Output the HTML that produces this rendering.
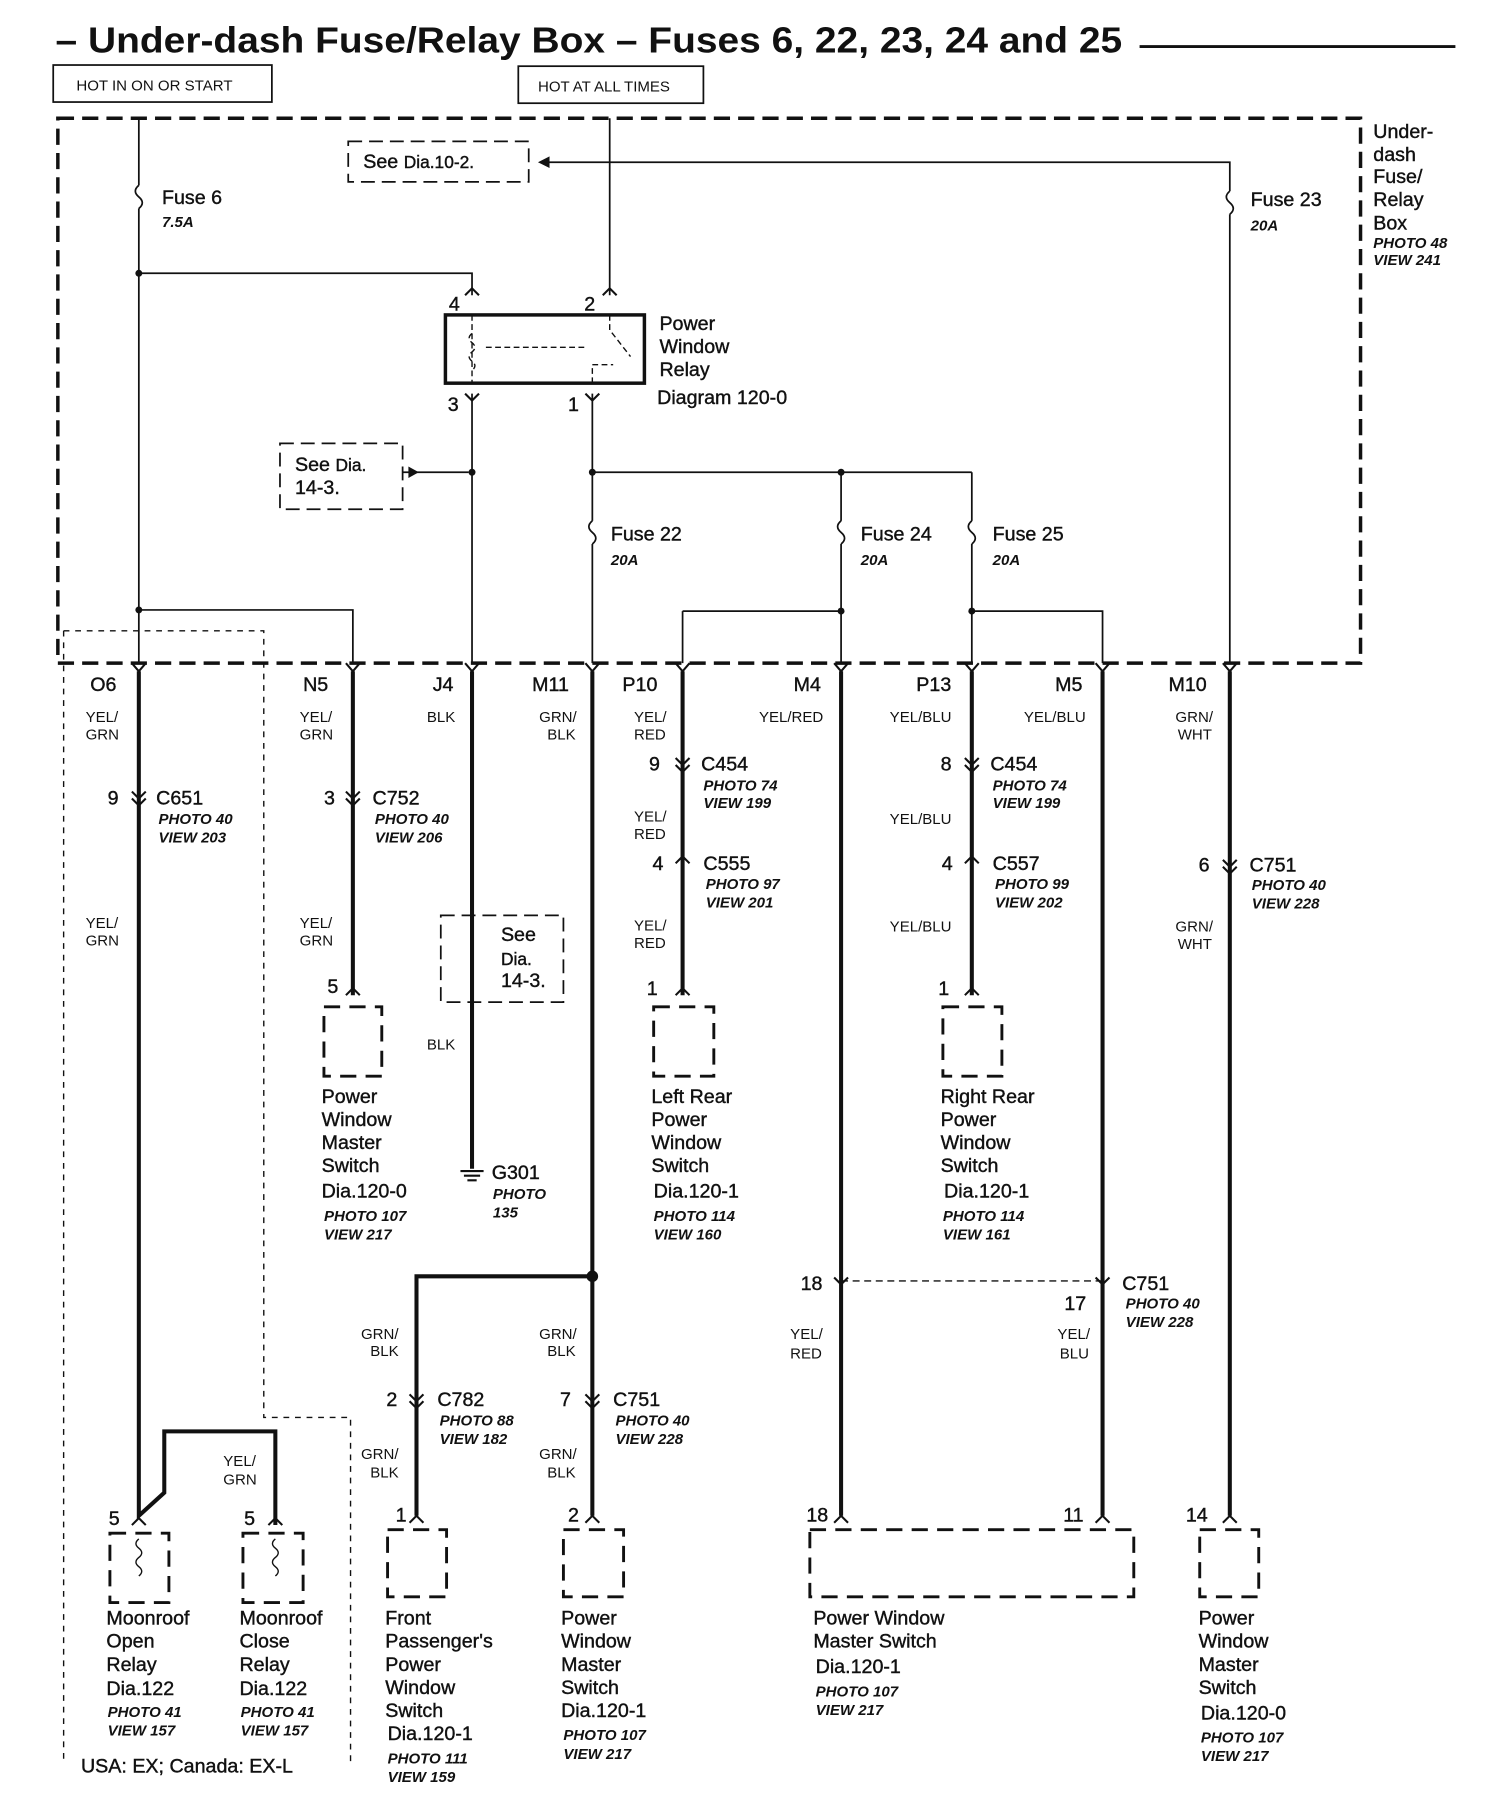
<!DOCTYPE html>
<html><head><meta charset="utf-8"><style>
html,body{margin:0;padding:0;background:#fff}
svg{display:block}
text{font-family:"Liberation Sans",sans-serif;fill:#111}
.l{font-size:17px;stroke:#111;stroke-width:0.35}
.s{font-size:13px;font-style:italic;font-weight:bold}
.w{font-size:13px}
.t{font-size:31px;font-weight:bold}
</style></head><body>
<svg width="1504" height="1818" viewBox="0 0 1300 1571" xmlns="http://www.w3.org/2000/svg">
<rect width="1300" height="1571" fill="#fff"/>
<text x="48" y="45" class="t" textLength="922" lengthAdjust="spacingAndGlyphs">– Under-dash Fuse/Relay Box – Fuses 6, 22, 23, 24 and 25</text>
<line x1="985" y1="40" x2="1258" y2="40" stroke="#111" stroke-width="2.5"/>
<g fill="none" stroke="#111">
<rect x="46" y="56" width="189" height="32" stroke-width="1.5"/>
<rect x="448" y="57" width="160" height="32" stroke-width="1.5"/>
<rect x="50" y="102" width="1126" height="471" stroke-width="3" stroke-dasharray="14,7"/>
<g stroke-width="1.5">
<path d="M120 102V160M120 180V573"/>
<path d="M527 102V255M527 140H1063V165M1063 185V573M470 140H527"/>
<path d="M120 236H408V255"/>
<path d="M408 340V573"/>
<path d="M512 340V450M512 470V573M512 408H840M727 408V450M727 470V573M840 408V450M840 470V573"/>
<path d="M120 527H305V573M590 528H727M590 528V573M840 528H953V573"/>
<path d="M348 408H405"/>
</g>
<g stroke-width="1.5">
<path d="M120 160q-6 5 0 10q6 5 0 10"/>
<path d="M1063 165q-6 5 0 10q6 5 0 10"/>
<path d="M512 450q-6 5 0 10q6 5 0 10"/>
<path d="M727 450q-6 5 0 10q6 5 0 10"/>
<path d="M840 450q-6 5 0 10q6 5 0 10"/>
</g>
<rect x="385" y="272" width="172" height="59" stroke-width="3"/>
<path d="M408 272V331M408 288q-5 4 0 8q5 4 0 8q-5 4 0 8q5 4 0 8M420 300H505M527 272V285L545 308M512 331V315H530" stroke-width="1.2" stroke-dasharray="5,3"/>
<rect x="301" y="122" width="156" height="35" stroke-width="1.5" stroke-dasharray="12,6"/>
<rect x="242" y="383" width="106" height="57" stroke-width="1.5" stroke-dasharray="12,6"/>
<rect x="381" y="791" width="106" height="75" stroke-width="1.5" stroke-dasharray="12,6"/>
<path d="M55 545H228V1225H303V1525M55 545V1525" stroke-width="1.2" stroke-dasharray="5,5"/>
<path d="M727 1107H953" stroke-width="1.2" stroke-dasharray="6,4"/>
<g stroke-width="3.5">
<path d="M120 580V1310L142 1290V1237H238V1318"/>
<path d="M305 580V860M408 580V1010M512 580V1310M590 580V860M727 580V1310M840 580V860M953 580V1310M1063 580V1310"/>
<path d="M512 1103H360V1310"/>
</g>
<g stroke-width="2.5" stroke-dasharray="14,8">
<rect x="280" y="870" width="50" height="60"/>
<rect x="565" y="870" width="52" height="60"/>
<rect x="815" y="870" width="51" height="60"/>
<rect x="95" y="1325" width="51" height="60"/>
<rect x="210" y="1325" width="52" height="60"/>
<rect x="335" y="1322" width="51" height="58"/>
<rect x="487" y="1322" width="52" height="58"/>
<rect x="700" y="1322" width="280" height="58"/>
<rect x="1037" y="1322" width="51" height="58"/>
</g>
<path d="M120 1330q-5 4 0 8q5 4 0 8q-5 4 0 8q5 4 0 8M238 1330q-5 4 0 8q5 4 0 8q-5 4 0 8q5 4 0 8" stroke-width="1.2"/>
<g stroke-width="1.8">
<path d="M114 573l6 7l6-7M299 573l6 7l6-7M402 573l6 7l6-7M506 573l6 7l6-7M584 573l6 7l6-7M721 573l6 7l6-7M834 573l6 7l6-7M947 573l6 7l6-7M1057 573l6 7l6-7"/>
<path d="M114 684l6 6l6-6M114 690l6 6l6-6M299 684l6 6l6-6M299 690l6 6l6-6M584 655l6 6l6-6M584 661l6 6l6-6M834 655l6 6l6-6M834 661l6 6l6-6M584 746l6-6l6 6M834 746l6-6l6 6M1057 743l6 6l6-6M1057 749l6 6l6-6M354 1205l6 6l6-6M354 1211l6 6l6-6M506 1205l6 6l6-6M506 1211l6 6l6-6M721 1104l6 6l6-6M947 1104l6 6l6-6"/>
<path d="M299 860l6-6l6 6M584 860l6-6l6 6M834 860l6-6l6 6M354 1316l6-6l6 6M506 1316l6-6l6 6M721 1316l6-6l6 6M947 1316l6-6l6 6M1057 1316l6-6l6 6M114 1318l6-6l6 6M232 1318l6-6l6 6M402 255l6-6l6 6M521 255l6-6l6 6M402 340l6 6l6-6M506 340l6 6l6-6"/>
<path d="M398 1012h20M401 1016h14M404 1020h8"/>
</g>
</g>
<path d="M465 140l10-5v10z" fill="#111"/>
<path d="M362 408l-9-5v10z" fill="#111"/>
<circle cx="408" cy="408" r="3" fill="#111"/><circle cx="512" cy="408" r="3" fill="#111"/><circle cx="727" cy="408" r="3" fill="#111"/>
<circle cx="120" cy="236" r="3" fill="#111"/><circle cx="120" cy="527" r="3" fill="#111"/><circle cx="840" cy="528" r="3" fill="#111"/><circle cx="727" cy="528" r="3" fill="#111"/>
<circle cx="512" cy="1103" r="5" fill="#111"/>
<g class="w"><text x="66" y="78">HOT IN ON OR START</text><text x="465" y="79">HOT AT ALL TIMES</text></g>
<g class="l">
<text x="314" y="145">See <tspan font-size="15">Dia.10-2.</tspan></text>
<text x="140" y="176">Fuse 6</text><text x="1081" y="178">Fuse 23</text>
<text x="1187" y="119">Under-</text><text x="1187" y="139">dash</text><text x="1187" y="158">Fuse/</text><text x="1187" y="178">Relay</text><text x="1187" y="198">Box</text>
<text x="570" y="285">Power</text><text x="570" y="305">Window</text><text x="570" y="325">Relay</text><text x="568" y="349">Diagram 120-0</text>
<text x="388" y="268">4</text><text x="505" y="268">2</text><text x="387" y="355">3</text><text x="491" y="355">1</text>
<text x="255" y="407">See <tspan font-size="15">Dia.</tspan></text><text x="255" y="427">14-3.</text>
<text x="528" y="467">Fuse 22</text><text x="744" y="467">Fuse 24</text><text x="858" y="467">Fuse 25</text>
<text x="78" y="597">O6</text><text x="262" y="597">N5</text><text x="374" y="597">J4</text><text x="460" y="597">M11</text><text x="538" y="597">P10</text><text x="686" y="597">M4</text><text x="792" y="597">P13</text><text x="912" y="597">M5</text><text x="1010" y="597">M10</text>
<text x="93" y="695">9</text><text x="135" y="695">C651</text>
<text x="280" y="695">3</text><text x="322" y="695">C752</text>
<text x="561" y="666">9</text><text x="606" y="666">C454</text>
<text x="813" y="666">8</text><text x="856" y="666">C454</text>
<text x="564" y="752">4</text><text x="608" y="752">C555</text>
<text x="814" y="752">4</text><text x="858" y="752">C557</text>
<text x="1036" y="753">6</text><text x="1080" y="753">C751</text>
<text x="433" y="813">See</text><text x="433" y="834"><tspan font-size="15">Dia.</tspan></text><text x="433" y="853">14-3.</text>
<text x="283" y="858">5</text><text x="559" y="860">1</text><text x="811" y="860">1</text>
<text x="278" y="953">Power</text><text x="278" y="973">Window</text><text x="278" y="993">Master</text><text x="278" y="1013">Switch</text><text x="278" y="1035">Dia.120-0</text>
<text x="425" y="1019">G301</text>
<text x="563" y="953">Left Rear</text><text x="563" y="973">Power</text><text x="563" y="993">Window</text><text x="563" y="1013">Switch</text><text x="565" y="1035">Dia.120-1</text>
<text x="813" y="953">Right Rear</text><text x="813" y="973">Power</text><text x="813" y="993">Window</text><text x="813" y="1013">Switch</text><text x="816" y="1035">Dia.120-1</text>
<text x="692" y="1115">18</text><text x="970" y="1115">C751</text><text x="920" y="1132">17</text>
<text x="334" y="1215">2</text><text x="378" y="1215">C782</text><text x="484" y="1215">7</text><text x="530" y="1215">C751</text>
<text x="94" y="1318">5</text><text x="211" y="1318">5</text><text x="342" y="1315">1</text><text x="491" y="1315">2</text><text x="697" y="1315">18</text><text x="919" y="1315">11</text><text x="1025" y="1315">14</text>
<text x="92" y="1404">Moonroof</text><text x="92" y="1424">Open</text><text x="92" y="1444">Relay</text><text x="92" y="1465">Dia.122</text>
<text x="207" y="1404">Moonroof</text><text x="207" y="1424">Close</text><text x="207" y="1444">Relay</text><text x="207" y="1465">Dia.122</text>
<text x="333" y="1404">Front</text><text x="333" y="1424">Passenger's</text><text x="333" y="1444">Power</text><text x="333" y="1464">Window</text><text x="333" y="1484">Switch</text><text x="335" y="1504">Dia.120-1</text>
<text x="485" y="1404">Power</text><text x="485" y="1424">Window</text><text x="485" y="1444">Master</text><text x="485" y="1464">Switch</text><text x="485" y="1484">Dia.120-1</text>
<text x="703" y="1404">Power Window</text><text x="703" y="1424">Master Switch</text><text x="705" y="1446">Dia.120-1</text>
<text x="1036" y="1404">Power</text><text x="1036" y="1424">Window</text><text x="1036" y="1444">Master</text><text x="1036" y="1464">Switch</text><text x="1038" y="1486">Dia.120-0</text>
<text x="70" y="1532">USA: EX; Canada: EX-L</text>
</g>
<g class="s">
<text x="140" y="196">7.5A</text><text x="1081" y="199">20A</text>
<text x="1187" y="214">PHOTO 48</text><text x="1187" y="229">VIEW 241</text>
<text x="528" y="488">20A</text><text x="744" y="488">20A</text><text x="858" y="488">20A</text>
<text x="137" y="712">PHOTO 40</text><text x="137" y="728">VIEW 203</text>
<text x="324" y="712">PHOTO 40</text><text x="324" y="728">VIEW 206</text>
<text x="608" y="683">PHOTO 74</text><text x="608" y="698">VIEW 199</text>
<text x="858" y="683">PHOTO 74</text><text x="858" y="698">VIEW 199</text>
<text x="610" y="768">PHOTO 97</text><text x="610" y="784">VIEW 201</text>
<text x="860" y="768">PHOTO 99</text><text x="860" y="784">VIEW 202</text>
<text x="1082" y="769">PHOTO 40</text><text x="1082" y="785">VIEW 228</text>
<text x="280" y="1055">PHOTO 107</text><text x="280" y="1071">VIEW 217</text>
<text x="426" y="1036">PHOTO</text><text x="426" y="1052">135</text>
<text x="565" y="1055">PHOTO 114</text><text x="565" y="1071">VIEW 160</text>
<text x="815" y="1055">PHOTO 114</text><text x="815" y="1071">VIEW 161</text>
<text x="973" y="1131">PHOTO 40</text><text x="973" y="1147">VIEW 228</text>
<text x="380" y="1232">PHOTO 88</text><text x="380" y="1248">VIEW 182</text>
<text x="532" y="1232">PHOTO 40</text><text x="532" y="1248">VIEW 228</text>
<text x="93" y="1484">PHOTO 41</text><text x="93" y="1500">VIEW 157</text>
<text x="208" y="1484">PHOTO 41</text><text x="208" y="1500">VIEW 157</text>
<text x="335" y="1524">PHOTO 111</text><text x="335" y="1540">VIEW 159</text>
<text x="487" y="1504">PHOTO 107</text><text x="487" y="1520">VIEW 217</text>
<text x="705" y="1466">PHOTO 107</text><text x="705" y="1482">VIEW 217</text>
<text x="1038" y="1506">PHOTO 107</text><text x="1038" y="1522">VIEW 217</text>
</g>
<g class="w">
<text x="74" y="624">YEL/</text><text x="74" y="639">GRN</text>
<text x="259" y="624">YEL/</text><text x="259" y="639">GRN</text>
<text x="369" y="624">BLK</text>
<text x="466" y="624">GRN/</text><text x="473" y="639">BLK</text>
<text x="548" y="624">YEL/</text><text x="548" y="639">RED</text>
<text x="656" y="624">YEL/RED</text>
<text x="769" y="624">YEL/BLU</text><text x="885" y="624">YEL/BLU</text>
<text x="1016" y="624">GRN/</text><text x="1018" y="639">WHT</text>
<text x="548" y="710">YEL/</text><text x="548" y="725">RED</text>
<text x="769" y="712">YEL/BLU</text>
<text x="74" y="802">YEL/</text><text x="74" y="817">GRN</text>
<text x="259" y="802">YEL/</text><text x="259" y="817">GRN</text>
<text x="548" y="804">YEL/</text><text x="548" y="819">RED</text>
<text x="769" y="805">YEL/BLU</text>
<text x="1016" y="805">GRN/</text><text x="1018" y="820">WHT</text>
<text x="369" y="907">BLK</text>
<text x="312" y="1157">GRN/</text><text x="320" y="1172">BLK</text>
<text x="466" y="1157">GRN/</text><text x="473" y="1172">BLK</text>
<text x="683" y="1157">YEL/</text><text x="683" y="1174">RED</text>
<text x="914" y="1157">YEL/</text><text x="916" y="1174">BLU</text>
<text x="312" y="1261">GRN/</text><text x="320" y="1277">BLK</text>
<text x="466" y="1261">GRN/</text><text x="473" y="1277">BLK</text>
<text x="193" y="1267">YEL/</text><text x="193" y="1283">GRN</text>
</g>
</svg>
</body></html>
